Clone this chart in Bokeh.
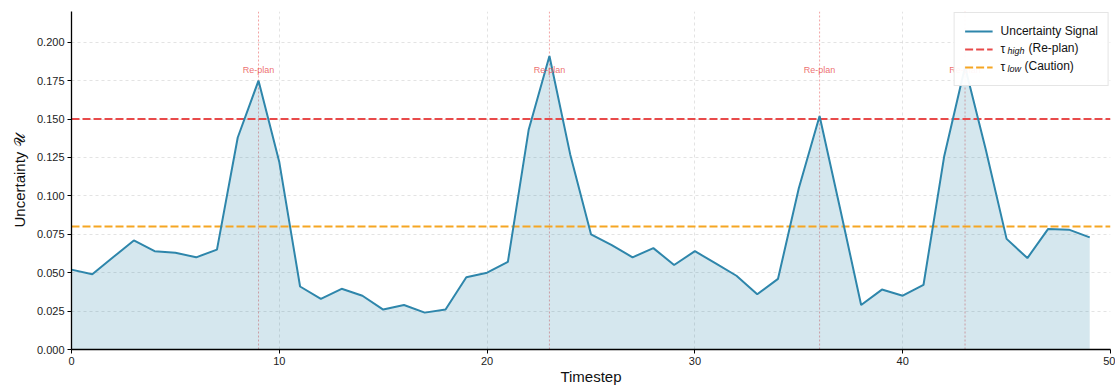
from bokeh.plotting import figure
from bokeh.models import (Span, Legend, LegendItem, FixedTicker, NumeralTickFormatter,
                          Range1d, ColumnDataSource)
from bokeh.core.properties import value
from bokeh.embed import file_html
from bokeh.resources import INLINE

# ---- data ----
timesteps = list(range(50))
uncertainty = [0.052, 0.049, 0.060, 0.071, 0.064, 0.063, 0.060, 0.065, 0.138, 0.175,
               0.122, 0.041, 0.033, 0.0395, 0.035, 0.026, 0.029, 0.024, 0.026, 0.047,
               0.050, 0.057, 0.143, 0.191, 0.127, 0.075, 0.068, 0.060, 0.066, 0.055,
               0.064, 0.056, 0.048, 0.036, 0.046, 0.105, 0.152, 0.091, 0.029, 0.039,
               0.035, 0.042, 0.126, 0.184, 0.130, 0.072, 0.0595, 0.0785, 0.078, 0.073]
replan_steps = [9, 23, 36, 43]
replan_text = ["Re-plan"] * len(replan_steps)
tau_high = 0.15
tau_low = 0.08
x_ticks = [0, 10, 20, 30, 40, 50]
y_ticks = [0.0, 0.025, 0.05, 0.075, 0.1, 0.125, 0.15, 0.175, 0.2]

# ---- style ----
FONT = "Liberation Sans"
SIGNAL = "#2E86AB"
RED = "#E84A4A"
ORANGE = "#F5A623"

W, H = 1115, 387
BL, BR, BT, BB = 71, 5, 11, 38
X0, X1, Y0, Y1 = 0, 50, 0, 0.22

p = figure(width=W, height=H, x_range=Range1d(X0, X1), y_range=Range1d(Y0, Y1),
           output_backend="svg", toolbar_location=None,
           min_border_left=BL, min_border_right=BR, min_border_top=BT, min_border_bottom=BB)
p.outline_line_color = None

for g, t in ((p.xgrid, x_ticks), (p.ygrid, y_ticks)):
    g.ticker = FixedTicker(ticks=t)
    g.grid_line_color = "#cccccc"
    g.grid_line_alpha = 0.7
    g.grid_line_dash = "3 3"
    g.grid_line_width = 0.8

p.xaxis.ticker = FixedTicker(ticks=x_ticks)
p.yaxis.ticker = FixedTicker(ticks=y_ticks)
p.yaxis.formatter = NumeralTickFormatter(format="0.000")
for ax in (p.xaxis[0], p.yaxis[0]):
    ax.axis_line_color = "black"
    ax.axis_line_width = 1.3
    ax.major_tick_out = 4
    ax.major_tick_in = 0
    ax.major_tick_line_color = "black"
    ax.minor_tick_line_color = None
    ax.major_label_text_font = FONT
    ax.major_label_text_font_size = "11px"
    ax.major_label_text_color = "#222222"
    ax.major_label_standoff = 3
    ax.axis_label_text_font = FONT
    ax.axis_label_text_font_size = "15px"
    ax.axis_label_text_font_style = "normal"
    ax.axis_label_text_color = "#111111"
p.xaxis.axis_label = "Timestep"
p.yaxis.axis_label = "Uncertainty \U0001D4B0"
p.xaxis.axis_label_standoff = 0
p.yaxis.axis_label_standoff = 6

src = ColumnDataSource(dict(t=timesteps, u=uncertainty))
p.varea(x="t", y1=0, y2="u", source=src, fill_color=SIGNAL, fill_alpha=0.2)

for s in replan_steps:
    p.add_layout(Span(location=s, dimension="height", line_color=RED, line_alpha=0.5,
                      line_dash="2 2", line_width=1, level="underlay"))

r_high = p.line(x=[X0, X1], y=[tau_high, tau_high], line_color=RED, line_dash="8 3", line_width=2)
r_low = p.line(x=[X0, X1], y=[tau_low, tau_low], line_color=ORANGE, line_dash="8 3", line_width=2)
r_line = p.line(x="t", y="u", source=src, line_color=SIGNAL, line_width=2)

lab_src = ColumnDataSource(dict(x=replan_steps, y=[0.182] * len(replan_steps), text=replan_text))
p.text(x="x", y="y", text="text", source=lab_src, text_font=value(FONT), text_font_size="9px",
       text_color=RED, text_alpha=0.8, text_align="center", text_baseline="middle")

# ---- main legend ----
PAD, GW, GH, STAND, SP, MARGIN = 10, 28, 16, 8, 2, 1
label_w = 98.0
legend = Legend(items=[LegendItem(label="Uncertainty Signal", renderers=[r_line]),
                       LegendItem(label="\u03c4", renderers=[r_high]),
                       LegendItem(label="\u03c4", renderers=[r_low])],
                location="top_right", margin=MARGIN, padding=PAD, glyph_width=GW, glyph_height=GH,
                label_height=GH, label_standoff=STAND, spacing=SP,
                label_text_font=FONT, label_text_font_size="12px", label_text_color="#111111",
                border_line_color="#cccccc", border_line_width=1,
                background_fill_color="white", background_fill_alpha=0.95)
p.add_layout(legend)

# ---- subscripts and suffixes of the tau entries: borderless one-line legends on top ----
ghost = p.line(x=[], y=[], line_alpha=0)
frame_right = W - BR
frame_bottom = H - BB
leg_right = frame_right - MARGIN
lab_x = leg_right - PAD - label_w
sub_x = lab_x + 6.5
rows = [BT + MARGIN + PAD + GH / 2 + k * (GH + SP) for k in range(3)]

def text_legend(text, left, center, size, style, row_h):
    lg = Legend(items=[LegendItem(label=text, renderers=[ghost])],
                location=(left - BL, frame_bottom - (center + row_h / 2)),
                margin=0, padding=0, glyph_width=0, glyph_height=row_h, label_height=row_h,
                label_standoff=0, spacing=0, label_text_font=FONT, label_text_font_size=size,
                label_text_font_style=style, label_text_color="#111111",
                border_line_color=None, background_fill_alpha=0.0)
    p.add_layout(lg)

for row, sub, rest, sub_w in ((rows[1], "high", "(Re-plan)", 18.0), (rows[2], "low", "(Caution)", 14.0)):
    text_legend(sub, sub_x, row + 3, "9px", "italic", 12)
    text_legend(rest, sub_x + sub_w + 3, row, "12px", "normal", 16)

open("out.html", "w").write(file_html(p, INLINE))
